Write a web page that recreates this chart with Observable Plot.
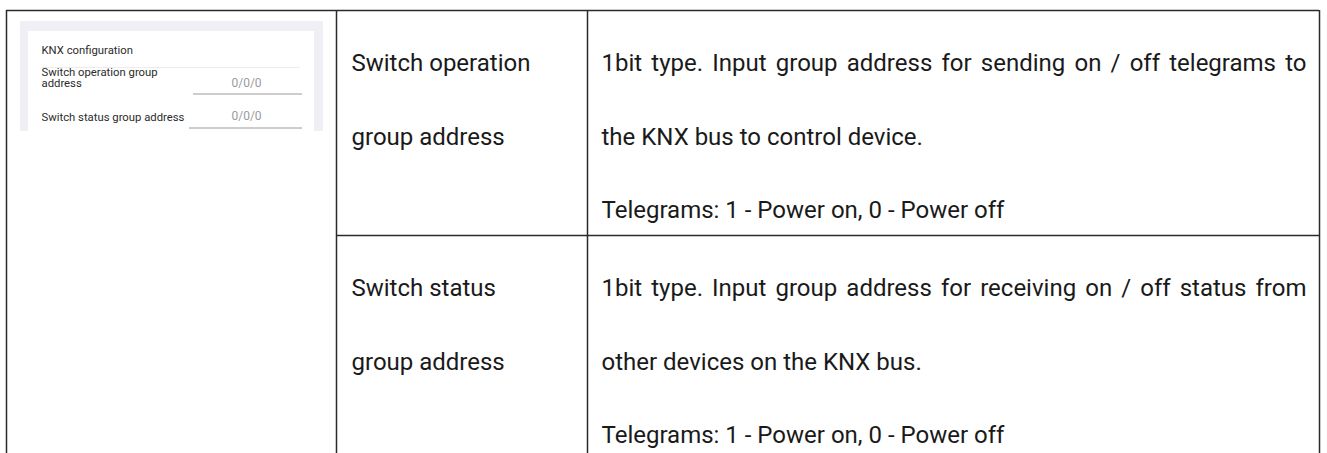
<!DOCTYPE html>
<html>
<head>
<meta charset="utf-8">
<script src="https://cdn.jsdelivr.net/npm/d3@7"></script>
<script src="https://cdn.jsdelivr.net/npm/@observablehq/plot@0.6"></script>
<style>
  html, body { margin: 0; padding: 0; background: #fff; }
  body { width: 1327px; height: 453px; overflow: hidden; }
</style>
</head>
<body>
<div id="chart"></div>
<script>
// ---- data ----
const parameterLines = [
  ["Switch operation", "group address"],
  ["Switch status", "group address"]
];
const descriptionLines = [
  ["1bit type. Input group address for sending on / off telegrams to",
   "the KNX bus to control device.",
   "Telegrams: 1 - Power on, 0 - Power off"],
  ["1bit type. Input group address for receiving on / off status from",
   "other devices on the KNX bus.",
   "Telegrams: 1 - Power on, 0 - Power off"]
];
const justifiedLines = [descriptionLines[0][0], descriptionLines[1][0]];
const panelTitle = "KNX configuration";
const panelFields = [["Switch operation group", "address"], ["Switch status group address"]];
const panelValues = ["0/0/0", "0/0/0"];

// ---- layout ----
const W = 1327, H = 453;
const tableLeft = 6, tableTop = 10, tableRight = 1319;
const colX = [tableLeft, 336, 587, tableRight];
const rowTop = [tableTop, 235];
const lineStep = 73.5, firstLine = 53;
const textFont = 24;
const descX = colX[2] + 14;

const tableTexts = [];
parameterLines.forEach((lines, i) => lines.forEach((t, j) =>
  tableTexts.push({x: colX[1] + 15, y: rowTop[i] + firstLine + j * lineStep, text: t})));
descriptionLines.forEach((lines, i) => lines.forEach((t, j) =>
  tableTexts.push({x: descX, y: rowTop[i] + firstLine + j * lineStep, text: t})));

const vRules = colX.map((x) => ({x, y1: tableTop, y2: H + 5}));
const hRules = [
  {y: tableTop, x1: tableLeft, x2: tableRight},
  {y: rowTop[1], x1: colX[1], x2: tableRight}
];

// left screenshot panel
const panelRects = [
  {x1: 20, x2: 323, y1: 21, y2: 131, fill: "#f0eff5"},
  {x1: 28, x2: 314, y1: 31, y2: 131, fill: "#ffffff"}
];
const panelLines = [
  {y: 67, x1: 41, x2: 300, stroke: "#ececec"},
  {y: 93.5, x1: 193, x2: 302, stroke: "#9a9a9a"},
  {y: 127.5, x1: 189, x2: 302, stroke: "#9a9a9a"}
];
const panelLabelTexts = [{x: 41, y: 50, text: panelTitle}];
const fieldY = [[71.5, 82.5], [116.5]];
panelFields.forEach((lines, i) => lines.forEach((t, j) =>
  panelLabelTexts.push({x: 41, y: fieldY[i][j], text: t})));
const valueY = [83, 116];
const panelValueTexts = panelValues.map((t, i) => ({x: 246, y: valueY[i], text: t}));

const plot = Plot.plot({
  width: W,
  height: H,
  margin: 0,
  x: {domain: [0, W], range: [0, W], axis: null},
  y: {domain: [0, H], range: [0, H], axis: null},
  style: {fontFamily: "Roboto, sans-serif", background: "#fff"},
  marks: [
    Plot.rect(panelRects, {x1: "x1", x2: "x2", y1: "y1", y2: "y2", fill: "fill"}),
    Plot.ruleY(panelLines, {y: "y", x1: "x1", x2: "x2", stroke: "stroke", strokeWidth: 1}),
    Plot.text(panelLabelTexts, {x: "x", y: "y", text: "text", textAnchor: "start", lineAnchor: "middle", fontSize: 11.3, fill: "#2b2b2b"}),
    Plot.text(panelValueTexts, {x: "x", y: "y", text: "text", textAnchor: "middle", lineAnchor: "middle", fontSize: 12, fill: "#9a9a9a"}),
    Plot.ruleX(vRules, {x: "x", y1: "y1", y2: "y2", stroke: "#2a2a2a", strokeWidth: 1.5}),
    Plot.ruleY(hRules, {y: "y", x1: "x1", x2: "x2", stroke: "#2a2a2a", strokeWidth: 1.5}),
    Plot.text(tableTexts, {x: "x", y: "y", text: "text", textAnchor: "start", lineAnchor: "middle", fontSize: textFont, fill: "#1a1a1a"})
  ]
});
document.getElementById("chart").appendChild(plot);

// justify the first line of each description
const justifyRight = 1306;
plot.querySelectorAll("text").forEach(el => {
  const t = el.textContent;
  if (!justifiedLines.includes(t)) return;
  const width = el.getComputedTextLength();
  const spaces = (t.match(/ /g) || []).length;
  const extra = Math.max(0, (justifyRight - descX - width) / spaces);
  el.style.wordSpacing = extra + "px";
});
</script>
</body>
</html>
